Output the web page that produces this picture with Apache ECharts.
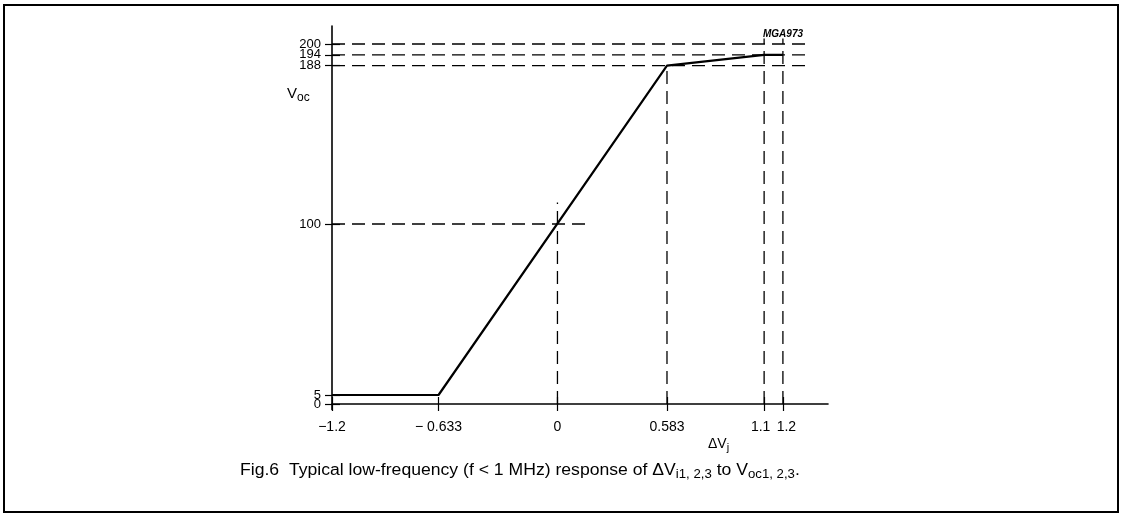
<!DOCTYPE html>
<html>
<head>
<meta charset="utf-8">
<script src="https://cdn.jsdelivr.net/npm/echarts@6/dist/echarts.min.js"></script>
<style>
html,body{margin:0;padding:0;background:#fff;}
#c{width:1122px;height:521px;}
</style>
</head>
<body>
<div id="c"></div>
<script>
// ---- data ----
const curveX = [-1.2, -0.633, 0.583, 1.1, 1.2];
const curveY = [5, 5, 188, 194, 194];
const xTickValues = [-1.2, -0.633, 0, 0.583, 1.1, 1.2];
const xTickLabels = ['\u22121.2', '\u2212 0.633', '0', '0.583', '1.1', '1.2'];
const yTickValues = [0, 5, 100, 188, 194, 200];
const yTickLabels = ['0', '5', '100', '188', '194', '200'];
// dashed guide lines
const hGuideY = [200, 194, 188, 100];
const hGuideEnd = [1.35, 1.35, 1.35, 0.15];
const vGuideX = [0, 0.583, 1.1, 1.2];
const vGuideTop = [112, 188, 203, 203];

const INK = '#000';
const FONT = '"Liberation Sans", Arial, Helvetica, sans-serif';

function lookup(vals, labels, nudge) {
  return function (v) {
    for (let i = 0; i < vals.length; i++) if (Math.abs(vals[i] - v) < 1e-6) {
      const tag = nudge ? (nudge[i] || 'n') : 'n';
      return '{' + tag + '|' + labels[i] + '}';
    }
    return '';
  };
}
// split labels over two coincident axes so neighbouring labels are never auto-hidden
const xLabA = xTickValues.filter((v, i) => i % 2 === 0);
const xLabB = xTickValues.filter((v, i) => i % 2 === 1);
const yLabA = yTickValues.filter((v, i) => i % 2 === 0);
const yLabB = yTickValues.filter((v, i) => i % 2 === 1);
const xNudge = ['n', 'n', 'n', 'n', 'l', 'r'];

const series = [];
series.push({
  type: 'line', data: curveX.map((x, i) => [x, curveY[i]]),
  symbol: 'none', lineStyle: { color: INK, width: 2.2 }, z: 5
});
const dash = [13, 7];
hGuideY.forEach((y, i) => series.push({
  type: 'line', data: [[-1.2, y], [hGuideEnd[i], y]], symbol: 'none',
  lineStyle: { color: INK, width: 1.3, type: dash }
}));
vGuideX.forEach((x, i) => series.push({
  type: 'line', data: [[x, 0], [x, vGuideTop[i]]], symbol: 'none',
  lineStyle: { color: INK, width: 1.3, type: dash }
}));

const chart = echarts.init(document.getElementById('c'), null, { renderer: 'canvas' });
const xBase = {
  type: 'value', min: -1.2, max: 1.44, position: 'bottom',
  splitLine: { show: false }
};
const yBase = {
  type: 'value', min: -3, max: 210, position: 'left',
  splitLine: { show: false }
};
const xRich = {
  n: { color: INK, fontFamily: FONT, fontSize: 14 },
  l: { color: INK, fontFamily: FONT, fontSize: 14, padding: [0, 7, 0, 0] },
  r: { color: INK, fontFamily: FONT, fontSize: 14, padding: [0, 0, 0, 7] }
};
const xLabelStyle = { color: INK, fontFamily: FONT, fontSize: 14, margin: 11, rich: xRich,
  showMinLabel: true, showMaxLabel: true, hideOverlap: false, formatter: lookup(xTickValues, xTickLabels, xNudge) };
const yLabelStyle = { color: INK, fontFamily: FONT, fontSize: 13, margin: 11,
  rich: { n: { color: INK, fontFamily: FONT, fontSize: 13 } },
  showMinLabel: true, showMaxLabel: true, hideOverlap: false, formatter: lookup(yTickValues, yTickLabels) };
chart.setOption({
  animation: false,
  backgroundColor: '#fff',
  grid: { left: 332, right: 294, top: 26, bottom: 111.6, containLabel: false },
  xAxis: [
    Object.assign({}, xBase, {
      axisLine: { onZero: true, lineStyle: { color: INK, width: 1.6 } },
      axisTick: { show: true, inside: false, length: 7, customValues: xTickValues, lineStyle: { color: INK, width: 1.2 } },
      axisLabel: Object.assign({ customValues: xLabA }, xLabelStyle)
    }),
    Object.assign({}, xBase, {
      axisLine: { show: false, onZero: true },
      axisTick: { show: true, inside: true, length: 7, customValues: xTickValues, lineStyle: { color: INK, width: 1.2 } },
      axisLabel: Object.assign({ customValues: xLabB }, xLabelStyle)
    })
  ],
  yAxis: [
    Object.assign({}, yBase, {
      axisLine: { onZero: false, lineStyle: { color: INK, width: 1.6 } },
      axisTick: { show: true, inside: false, length: 7, customValues: yTickValues, lineStyle: { color: INK, width: 1.2 } },
      axisLabel: Object.assign({ customValues: yLabA }, yLabelStyle)
    }),
    Object.assign({}, yBase, {
      axisLine: { show: false, onZero: false },
      axisTick: { show: true, inside: true, length: 8, customValues: yTickValues, lineStyle: { color: INK, width: 1.2 } },
      axisLabel: Object.assign({ customValues: yLabB }, yLabelStyle)
    })
  ],
  series: series,
  graphic: [
    { type: 'rect', shape: { x: 4, y: 5, width: 1114, height: 507 },
      style: { fill: 'none', stroke: INK, lineWidth: 2 }, silent: true },
    { type: 'text', left: 287, top: 86,
      style: { text: '{v|V}{s|oc}', fill: INK,
        rich: { v: { fontFamily: FONT, fontSize: 15, fill: INK }, s: { fontFamily: FONT, fontSize: 12, fill: INK, padding: [8, 0, 0, 0] } } } },
    { type: 'text', left: 708, top: 437,
      style: { text: '{v|\u0394V}{s|j}', fill: INK,
        rich: { v: { fontFamily: FONT, fontSize: 14, fill: INK }, s: { fontFamily: FONT, fontSize: 11, fill: INK, padding: [8, 0, 0, 0] } } } },
    { type: 'text', left: 763, top: 29,
      style: { text: 'MGA973', fill: INK, font: 'italic bold 10px ' + FONT } },
    { type: 'text', x: 240, y: 460, scaleX: 1.1,
      style: { text: '{t|Fig.6  Typical low-frequency (f < 1 MHz) response of \u0394V}{s|i1, 2,3}{t| to V}{s|oc1, 2,3}{t|.}', fill: INK,
        rich: { t: { fontFamily: FONT, fontSize: 16, fill: INK }, s: { fontFamily: FONT, fontSize: 12, fill: INK, padding: [9, 0, 0, 0] } } } }
  ]
});
</script>
</body>
</html>
